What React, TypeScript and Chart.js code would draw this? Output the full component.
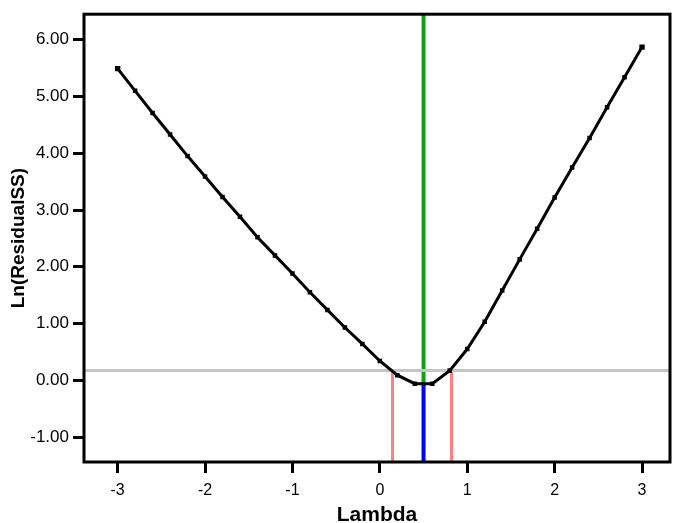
import React, { useEffect, useRef } from "react";
import { Chart, registerables } from "chart.js";

Chart.register(...registerables);

// ---- Data ----
const lambdaValues = [
  -3.0, -2.8, -2.6, -2.4, -2.2, -2.0, -1.8, -1.6, -1.4, -1.2, -1.0,
  -0.8, -0.6, -0.4, -0.2, 0.0, 0.2, 0.4, 0.6, 0.8, 1.0,
  1.2, 1.4, 1.6, 1.8, 2.0, 2.2, 2.4, 2.6, 2.8, 3.0,
];
const lnResidualSS = [
  5.49, 5.10, 4.71, 4.33, 3.95, 3.59, 3.23, 2.88, 2.52, 2.20, 1.88,
  1.55, 1.24, 0.93, 0.64, 0.34, 0.09, -0.06, -0.06, 0.17, 0.55,
  1.03, 1.58, 2.13, 2.67, 3.22, 3.75, 4.27, 4.81, 5.34, 5.87,
];
const xTickValues = [-3, -2, -1, 0, 1, 2, 3];
const yTickValues = [-1, 0, 1, 2, 3, 4, 5, 6];

const X_MIN = -3.385;
const X_MAX = 3.32;
const Y_MIN = -1.44;
const Y_MAX = 6.45;

const thresholdLn = 0.17; // grey horizontal line
const bestLambda = 0.5; // green / blue vertical line
const minLn = -0.06; // where green turns blue
const ciLower = 0.145; // pink lines
const ciUpper = 0.82;

const FONT = "'Liberation Sans', Arial, Helvetica, sans-serif";

const framePlugin = {
  id: "frame",
  afterDatasetsDraw(chart: any) {
    const { ctx, chartArea } = chart;
    ctx.save();
    ctx.strokeStyle = "#000";
    ctx.lineWidth = 3;
    ctx.strokeRect(
      chartArea.left,
      chartArea.top,
      chartArea.right - chartArea.left,
      chartArea.bottom - chartArea.top
    );
    ctx.restore();
  },
};

export default function App() {
  const canvasRef = useRef<HTMLCanvasElement | null>(null);

  useEffect(() => {
    if (!canvasRef.current) return;
    const curve = lambdaValues.map((x, i) => ({ x, y: lnResidualSS[i] }));
    const pointRadii = lambdaValues.map((_, i) =>
      i === 0 || i === lambdaValues.length - 1 ? 3.8 : 3.2
    );

    const chart = new Chart(canvasRef.current, {
      type: "line",
      data: {
        datasets: [
          {
            label: "curve",
            data: curve,
            borderColor: "#000",
            backgroundColor: "#000",
            borderWidth: 3,
            pointStyle: "rect",
            pointRadius: pointRadii,
            pointBackgroundColor: "#000",
            pointBorderColor: "#000",
            pointBorderWidth: 0,
            tension: 0,
            fill: false,
            order: 0,
          },
          {
            label: "threshold",
            data: [
              { x: X_MIN, y: thresholdLn },
              { x: X_MAX, y: thresholdLn },
            ],
            borderColor: "#c4c4c4",
            borderWidth: 3,
            pointRadius: 0,
            fill: false,
            order: 1,
          },
          {
            label: "best-green",
            data: [
              { x: bestLambda, y: Y_MAX },
              { x: bestLambda, y: minLn },
            ],
            borderColor: "#12a012",
            borderWidth: 4,
            pointRadius: 0,
            fill: false,
            order: 2,
          },
          {
            label: "best-blue",
            data: [
              { x: bestLambda, y: minLn },
              { x: bestLambda, y: Y_MIN },
            ],
            borderColor: "#0000ff",
            borderWidth: 4,
            pointRadius: 0,
            fill: false,
            order: 2,
          },
          {
            label: "ci-lower",
            data: [
              { x: ciLower, y: Y_MIN },
              { x: ciLower, y: thresholdLn },
            ],
            borderColor: "#ff8080",
            borderWidth: 3,
            pointRadius: 0,
            fill: false,
            order: 3,
          },
          {
            label: "ci-upper",
            data: [
              { x: ciUpper, y: Y_MIN },
              { x: ciUpper, y: thresholdLn },
            ],
            borderColor: "#ff8080",
            borderWidth: 3,
            pointRadius: 0,
            fill: false,
            order: 3,
          },
        ],
      },
      options: {
        animation: false,
        responsive: false,
        events: [],
        layout: { padding: { top: 14, right: 2, left: 0, bottom: 0 } },
        plugins: {
          legend: { display: false },
          tooltip: { enabled: false },
        },
        scales: {
          x: {
            type: "linear",
            min: X_MIN,
            max: X_MAX,
            afterBuildTicks: (scale: any) => {
              scale.ticks = xTickValues.map((v) => ({ value: v }));
            },
            afterFit: (scale: any) => {
              scale.height = 61;
            },
            border: { display: false },
            grid: {
              display: true,
              drawOnChartArea: false,
              drawTicks: true,
              tickLength: 11,
              tickWidth: 3,
              tickColor: "#000",
            },
            ticks: {
              color: "#000",
              padding: 8,
              maxRotation: 0,
              font: { family: FONT, size: 16 },
              callback: (v: any) => String(Math.round(Number(v))),
            },
            title: {
              display: true,
              text: "Lambda",
              color: "#000",
              font: { family: FONT, size: 21, weight: "bold" },
              padding: { top: 0, bottom: -5 },
            },
          },
          y: {
            type: "linear",
            min: Y_MIN,
            max: Y_MAX,
            afterBuildTicks: (scale: any) => {
              scale.ticks = yTickValues.map((v) => ({ value: v }));
            },
            afterFit: (scale: any) => {
              scale.width = 84;
            },
            border: { display: false },
            grid: {
              display: true,
              drawOnChartArea: false,
              drawTicks: true,
              tickLength: 11,
              tickWidth: 3,
              tickColor: "#000",
            },
            ticks: {
              color: "#000",
              padding: 4,
              font: { family: FONT, size: 17 },
              callback: (v: any) => Number(v).toFixed(2),
            },
            title: {
              display: true,
              text: "Ln(ResidualSS)",
              color: "#000",
              font: { family: FONT, size: 19, weight: "bold" },
              padding: { top: 7, bottom: 0 },
            },
          },
        },
      },
      plugins: [framePlugin],
    } as any);

    return () => chart.destroy();
  }, []);

  return (
    <div style={{ position: "fixed", left: 0, top: 0, width: 674, height: 523, background: "#fff" }}>
      <canvas ref={canvasRef} width={674} height={523} style={{ display: "block" }} />
    </div>
  );
}
